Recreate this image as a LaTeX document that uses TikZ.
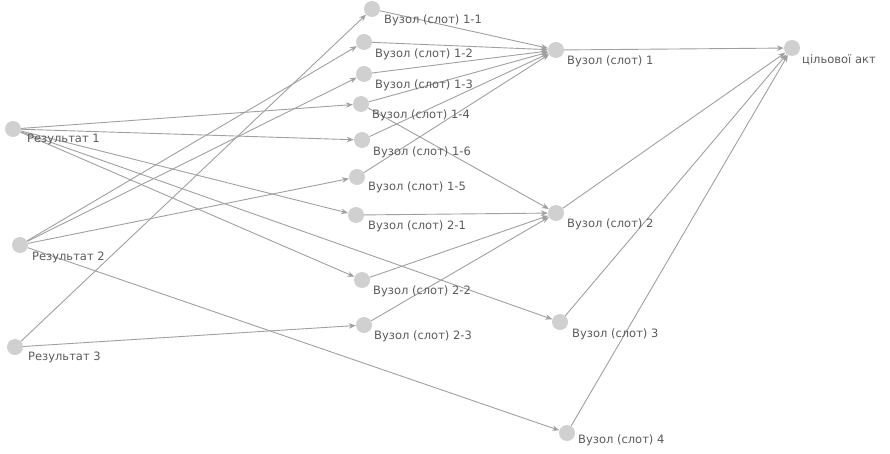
\documentclass[tikz,border=0pt]{standalone}
\usepackage{fontspec}
\setmainfont{DejaVu Sans}
\usetikzlibrary{arrows.meta}
\definecolor{edgec}{HTML}{A0A0A0}
\definecolor{nodec}{HTML}{D0D0D0}
\definecolor{txtc}{HTML}{5A5A5A}
\begin{document}
\begin{tikzpicture}[x=1pt,y=-1pt,
  dot/.style={circle,fill=nodec,minimum size=16pt,inner sep=0pt},
  lbl/.style={anchor=west,text=txtc,font=\fontsize{11.5}{13}\selectfont,inner sep=0pt},
  edge/.style={draw=edgec,line width=0.9pt,-{Stealth[length=7pt,width=5.5pt]}}]
\useasboundingbox (0,0) rectangle (890,454);
% nodes
\node[dot] (r1) at (13,129) {};
\node[dot] (r2) at (20,245) {};
\node[dot] (r3) at (15,347) {};
\node[dot] (n11) at (372,9) {};
\node[dot] (n12) at (364,42) {};
\node[dot] (n13) at (364,74) {};
\node[dot] (n14) at (361,104) {};
\node[dot] (n16) at (362,140) {};
\node[dot] (n15) at (357,177) {};
\node[dot] (n21) at (356,215) {};
\node[dot] (n22) at (362,280) {};
\node[dot] (n23) at (364,325) {};
\node[dot] (s1) at (556,50) {};
\node[dot] (s2) at (556,213) {};
\node[dot] (s3) at (560,322) {};
\node[dot] (s4) at (567,433) {};
\node[dot] (t) at (792,48) {};
% edges
\foreach \a/\b in {r1/n14,r1/n16,r1/n21,r1/n22,r1/s3,
  r2/n12,r2/n13,r2/n15,r2/s4,
  r3/n11,r3/n23,
  n11/s1,n12/s1,n13/s1,n14/s1,n16/s1,n15/s1,
  n14/s2,n21/s2,n22/s2,n23/s2,
  s1/t,s2/t,s3/t,s4/t}
  \draw[edge] (\a) -- (\b);
% labels
\node[lbl] (lr1) at (27,140) {Результат 1};
\node[lbl] (lr2) at (32,257) {Результат 2};
\node[lbl] (lr3) at (28,357) {Результат 3};
\node[lbl] (l11) at (384,20) {Вузол (слот) 1-1};
\node[lbl] (l12) at (375,54) {Вузол (слот) 1-2};
\node[lbl] (l13) at (375,85) {Вузол (слот) 1-3};
\node[lbl] (l14) at (372,115) {Вузол (слот) 1-4};
\node[lbl] (l16) at (373,152) {Вузол (слот) 1-6};
\node[lbl] (l15) at (368,187) {Вузол (слот) 1-5};
\node[lbl] (l21) at (368,226) {Вузол (слот) 2-1};
\node[lbl] (l22) at (373,291) {Вузол (слот) 2-2};
\node[lbl] (l23) at (374,336) {Вузол (слот) 2-3};
\node[lbl] (ls1) at (567,61) {Вузол (слот) 1};
\node[lbl] (ls2) at (567,224) {Вузол (слот) 2};
\node[lbl] (ls3) at (572,334) {Вузол (слот) 3};
\node[lbl] (ls4) at (578,440) {Вузол (слот) 4};
\node[lbl] (lt) at (802,60) {цільової акт};
\end{tikzpicture}
\end{document}
